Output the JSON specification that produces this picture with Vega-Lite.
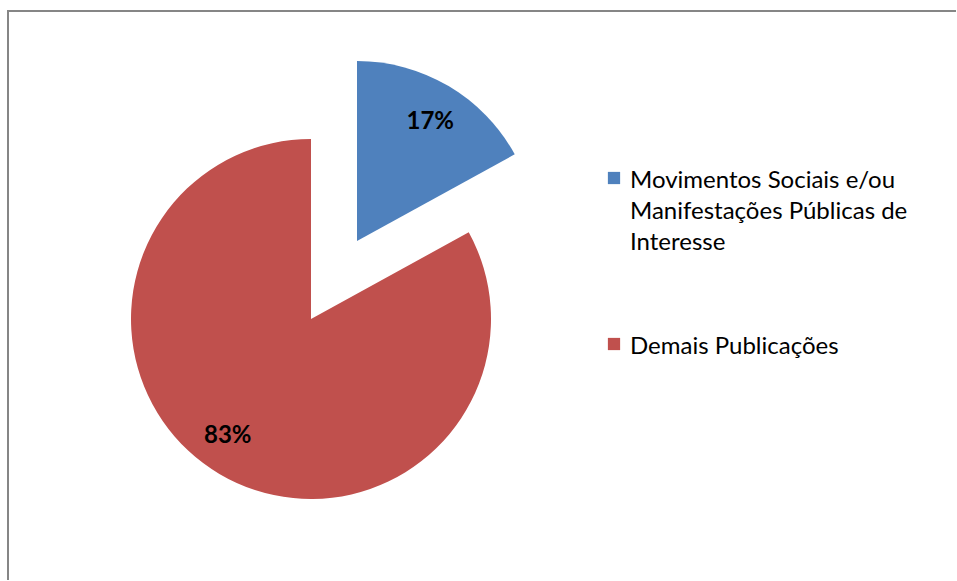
{
  "$schema": "https://vega.github.io/schema/vega-lite/v6.json",
  "width": 957,
  "height": 581,
  "autosize": {"type": "fit", "contains": "padding"},
  "padding": {"left": 6, "top": 9, "right": 0, "bottom": 0},
  "background": "white",
  "config": {
    "view": {"stroke": null},
    "style": {"guide-label": {"lineHeight": 31, "dy": -9}}
  },
  "data": {
    "values": [
      {"categoria": "Movimentos Sociais e/ou Manifestações Públicas de Interesse", "valor": 0.17},
      {"categoria": "Demais Publicações", "valor": 0.83}
    ]
  },
  "layer": [
    {
      "encoding": {
        "theta": {"field": "valor", "type": "quantitative", "stack": true},
        "order": {"field": "valor", "sort": "ascending"},
        "color": {
          "field": "categoria",
          "type": "nominal",
          "scale": {
            "domain": ["Movimentos Sociais e/ou Manifestações Públicas de Interesse", "Demais Publicações"],
            "range": ["#4F81BD", "#C0504D"]
          },
          "legend": {
            "orient": "none",
            "legendX": 595,
            "legendY": 156,
            "title": null,
            "symbolType": "square",
            "symbolSize": 150,
            "symbolStrokeWidth": 0,
            "labelFont": "Lato",
            "labelFontSize": 24,
            "labelColor": "#000000",
            "labelLimit": 400,
            "labelOffset": 4,
            "labelBaseline": "top",
            "rowPadding": 77,
            "labelExpr": "datum.label == 'Demais Publicações' ? datum.label : ['Movimentos Sociais e/ou', 'Manifestações Públicas de', 'Interesse']"
          }
        }
      },
      "layer": [
        {
          "mark": {"type": "arc", "radius": 180, "x": 304, "y": 309},
          "encoding": {
            "opacity": {"condition": {"test": "datum.categoria == 'Demais Publicações'", "value": 1}, "value": 0}
          }
        },
        {
          "mark": {"type": "arc", "radius": 180, "x": 350, "y": 231},
          "encoding": {
            "opacity": {"condition": {"test": "datum.categoria == 'Demais Publicações'", "value": 0}, "value": 1}
          }
        },
        {
          "mark": {"type": "text", "radius": 142, "x": 304, "y": 309, "font": "Lato", "fontSize": 24, "fontWeight": "bold", "dx": -11, "dy": -5},
          "encoding": {
            "text": {"field": "valor", "type": "quantitative", "format": ".0%"},
            "color": {"value": "#000000"},
            "opacity": {"condition": {"test": "datum.categoria == 'Demais Publicações'", "value": 1}, "value": 0}
          }
        },
        {
          "mark": {"type": "text", "radius": 138, "x": 350, "y": 231, "font": "Lato", "fontSize": 24, "fontWeight": "bold", "dx": 3},
          "encoding": {
            "text": {"field": "valor", "type": "quantitative", "format": ".0%"},
            "color": {"value": "#000000"},
            "opacity": {"condition": {"test": "datum.categoria == 'Demais Publicações'", "value": 0}, "value": 1}
          }
        }
      ]
    },
    {
      "mark": {"type": "rule", "color": "#868686", "strokeWidth": 2},
      "encoding": {"x": {"value": 1}}
    },
    {
      "mark": {"type": "rule", "color": "#868686", "strokeWidth": 2},
      "encoding": {"y": {"value": 1}}
    }
  ]
}
